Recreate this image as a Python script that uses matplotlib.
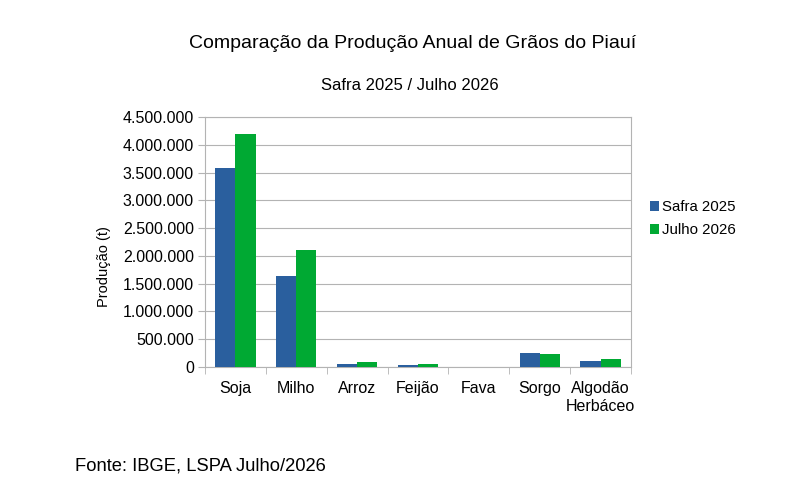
import matplotlib
matplotlib.use("Agg")
import matplotlib.pyplot as plt
import numpy as np
from matplotlib.ticker import FuncFormatter, FixedLocator

plt.rcParams['font.family'] = ['Liberation Sans', 'DejaVu Sans']

categories = ["Soja", "Milho", "Arroz", "Feijão", "Fava", "Sorgo", "Algodão\nHerbáceo"]
safra_2025 = [3590000, 1640000, 61000, 36000, 1000, 252000, 103000]
julho_2026 = [4200000, 2110000, 85000, 48000, 1500, 241000, 139000]
series_labels = ["Safra 2025", "Julho 2026"]
colors = ["#2a5f9e", "#00a933"]

fig = plt.figure(figsize=(7.9, 4.95), dpi=100)
ax = fig.add_axes([205/790, 1-367/495, (631-205)/790, (367-117)/495])

x = np.arange(len(categories))
w = 0.33
ax.bar(x - w/2, safra_2025, w, color=colors[0], label=series_labels[0], zorder=3)
ax.bar(x + w/2, julho_2026, w, color=colors[1], label=series_labels[1], zorder=3)

ax.set_xlim(-0.5, len(categories)-0.5)
ax.set_ylim(0, 4500000)
ax.set_yticks(np.arange(0, 4500001, 500000))
ax.yaxis.set_major_formatter(FuncFormatter(lambda v, p: f"{int(v):,}".replace(",", ".")))
ax.grid(axis='y', color='#b3b3b3', linewidth=0.8, zorder=0)
ax.set_xticks(x)
ax.set_xticklabels(categories, fontsize=11.5, linespacing=1.25, va='top')
ax.xaxis.set_minor_locator(FixedLocator(np.arange(-0.5, len(categories), 1)))
ax.tick_params(axis='x', which='major', length=0, pad=10)
ax.tick_params(axis='x', which='minor', length=5, color='#b3b3b3')
ax.tick_params(axis='y', length=5, color='#b3b3b3', labelsize=11.5, pad=3)
for s in ax.spines.values():
    s.set_color('#b3b3b3')
    s.set_linewidth(0.8)

fig.text(104/790, 1-267/495, "Produção (t)", rotation=90, ha='center', va='center', fontsize=10.5)

ax.legend(loc='upper left', bbox_to_anchor=(650/790, 1-200/495), bbox_transform=fig.transFigure,
          frameon=False, fontsize=10.8, handlelength=0.62, handleheight=0.68, handletextpad=0.2,
          labelspacing=0.62, borderpad=0, borderaxespad=0)

fig.text(413/790, 1-43/495, "Comparação da Produção Anual de Grãos do Piauí", ha='center', va='center', fontsize=14)
fig.text(409.5/790, 1-86/495, "Safra 2025 / Julho 2026", ha='center', va='center', fontsize=12)
fig.text(75/790, 1-466/495, "Fonte: IBGE, LSPA Julho/2026", ha='left', va='center', fontsize=13.2)

fig.savefig("out.png", dpi=100)
